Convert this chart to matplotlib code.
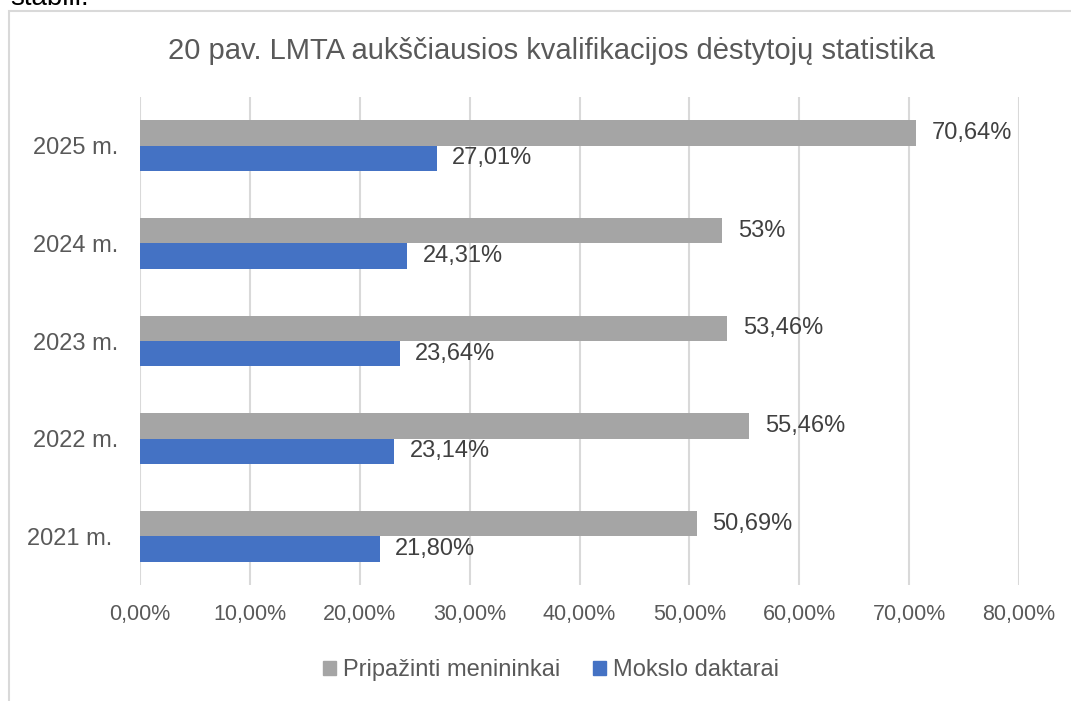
import numpy as np
import matplotlib
matplotlib.use("Agg")
import matplotlib.pyplot as plt
from matplotlib.patches import Patch, Rectangle

# Duomenys
years = ["2021 m. ", "2022 m.", "2023 m.", "2024 m.", "2025 m."]
menininkai = [50.69, 55.46, 53.46, 53.00, 70.64]
daktarai = [21.80, 23.14, 23.64, 24.31, 27.01]
menininkai_labels = ["50,69%", "55,46%", "53,46%", "53%", "70,64%"]
daktarai_labels = ["21,80%", "23,14%", "23,64%", "24,31%", "27,01%"]
xticks = [0, 10, 20, 30, 40, 50, 60, 70, 80]

GRAY = "#a5a5a5"
BLUE = "#4472c4"
TXT = "#595959"

plt.rcParams["font.family"] = ["Liberation Sans", "DejaVu Sans"]

fig = plt.figure(figsize=(10.71, 7.01), dpi=100)
ax = fig.add_axes([140 / 1071, 1 - 585 / 701, 879 / 1071, 488 / 701])

# ramelis aplink diagrama
fig.patches.append(Rectangle((9 / 1071, -0.1), 1.2, 1 - 11 / 701 + 0.1,
                             transform=fig.transFigure, fill=False,
                             edgecolor="#d9d9d9", linewidth=1.5))
# nukirptas ankstesnio teksto likutis virsuje
fig.text(10 / 1071, 1 - 5 / 701, "stabili.", fontsize=20, color="black",
         va="baseline", ha="left")

y = np.arange(len(years))
h = 0.26
b1 = ax.barh(y + h / 2, menininkai, height=h, color=GRAY, zorder=3)
b2 = ax.barh(y - h / 2, daktarai, height=h, color=BLUE, zorder=3)

for bar, lab in zip(b1, menininkai_labels):
    ax.annotate(lab, (bar.get_width(), bar.get_y() + bar.get_height() / 2),
                xytext=(11, 0), textcoords="offset points", va="center",
                ha="left", fontsize=17, color="#404040")
for bar, lab in zip(b2, daktarai_labels):
    ax.annotate(lab, (bar.get_width(), bar.get_y() + bar.get_height() / 2),
                xytext=(11, 0), textcoords="offset points", va="center",
                ha="left", fontsize=17, color="#404040")

ax.set_xlim(0, 80)
ax.set_ylim(-0.5, 4.5)
ax.set_xticks(xticks)
ax.set_xticklabels([f"{v:.2f}".replace(".", ",") + "%" for v in xticks])
ax.set_yticks(y)
ax.set_yticklabels(years)
ax.tick_params(axis="x", length=0, pad=14, labelsize=15.5, labelcolor=TXT)
ax.tick_params(axis="y", length=0, pad=15.5, labelsize=17, labelcolor=TXT)
ax.grid(axis="x", color="#d9d9d9", linewidth=1.5, zorder=0)
for s in ax.spines.values():
    s.set_visible(False)

fig.text(0.5145, 1 - 51 / 701, "20 pav. LMTA aukščiausios kvalifikacijos dėstytojų statistika",
         ha="center", va="center", fontsize=21, color=TXT)

handles = [Patch(color=GRAY, label="Pripažinti menininkai"),
           Patch(color=BLUE, label="Mokslo daktarai")]
leg = fig.legend(handles=handles, loc="center", bbox_to_anchor=(0.5145, 1 - 670 / 701),
                 ncol=2, frameon=False, fontsize=17, handlelength=0.55,
                 handleheight=0.55, handletextpad=0.3, columnspacing=1.4)
for t in leg.get_texts():
    t.set_color(TXT)

fig.savefig("out.png", dpi=100)
